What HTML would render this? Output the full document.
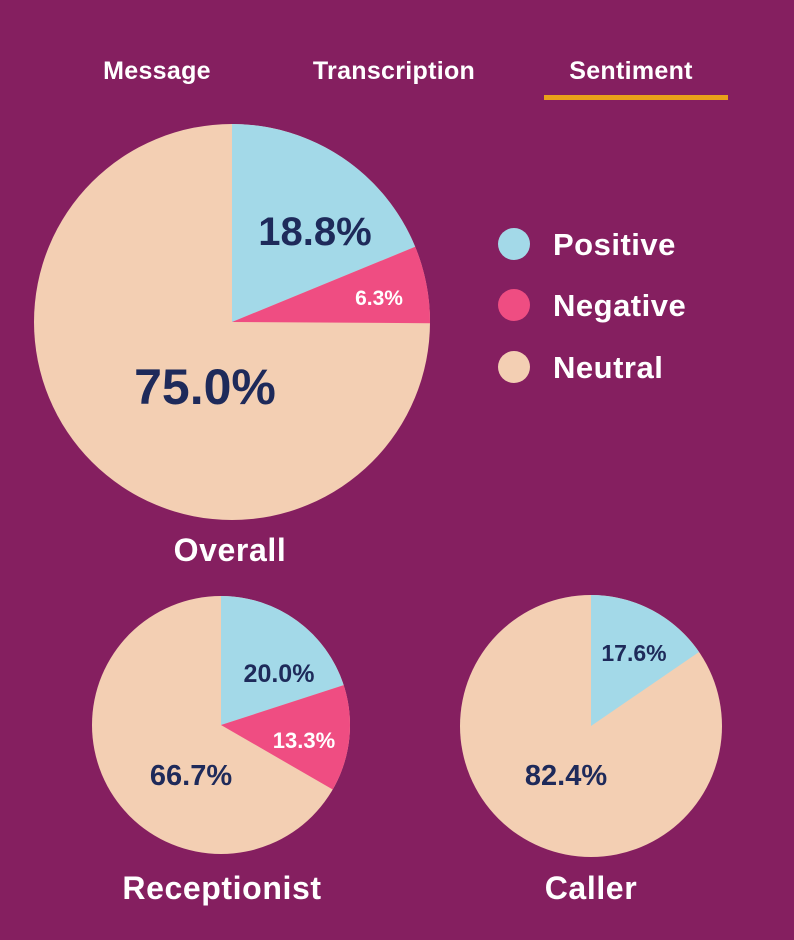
<!DOCTYPE html>
<html><head><meta charset="utf-8"><style>
html,body{margin:0;padding:0;background:#851f60;}
svg{display:block}
text{font-family:"Liberation Sans",sans-serif;}
</style></head><body>
<svg width="794" height="940" viewBox="0 0 794 940" xmlns="http://www.w3.org/2000/svg">
<rect width="794" height="940" fill="#851f60"/>
<g fill="#fff" font-size="25" font-weight="bold" text-anchor="middle" letter-spacing="0.3">
<text x="157" y="79">Message</text>
<text x="394" y="79">Transcription</text>
<text x="631" y="79">Sentiment</text>
</g>
<rect x="544" y="95" width="184" height="5" fill="#e9a11a"/>
<!-- Overall -->
<circle cx="232" cy="322" r="198" fill="#f3cfb3"/>
<path d="M232 322 L232 124 A198 198 0 0 1 415.2 246.8 Z" fill="#a3d9e8"/>
<path d="M232 322 L415.2 246.8 A198 198 0 0 1 430 323.2 Z" fill="#ef4d82"/>
<g font-weight="bold" fill="#1e2a5a" text-anchor="middle">
<text x="315" y="245" font-size="40">18.8%</text>
<text x="205" y="404" font-size="50">75.0%</text>
</g>
<text x="379" y="305" font-size="21" font-weight="bold" fill="#fff" text-anchor="middle">6.3%</text>
<!-- legend -->
<circle cx="514" cy="244" r="16" fill="#a3d9e8"/>
<circle cx="514" cy="305" r="16" fill="#ef4d82"/>
<circle cx="514" cy="367" r="16" fill="#f3cfb3"/>
<g fill="#fff" font-size="31" font-weight="bold" letter-spacing="0.5">
<text x="553" y="255">Positive</text>
<text x="553" y="316">Negative</text>
<text x="553" y="378">Neutral</text>
</g>
<text x="230" y="561" font-size="32" font-weight="bold" letter-spacing="0.6" fill="#fff" text-anchor="middle">Overall</text>
<!-- Receptionist -->
<circle cx="221" cy="725" r="129" fill="#f3cfb3"/>
<path d="M221 725 L221 596 A129 129 0 0 1 343.7 685.1 Z" fill="#a3d9e8"/>
<path d="M221 725 L343.7 685.1 A129 129 0 0 1 332.7 789.5 Z" fill="#ef4d82"/>
<!-- Caller -->
<circle cx="591" cy="726" r="131" fill="#f3cfb3"/>
<path d="M591 726 L591 595 A131 131 0 0 1 699 652 Z" fill="#a3d9e8"/>
<g font-weight="bold" fill="#1e2a5a" text-anchor="middle">
<text x="279" y="682" font-size="25">20.0%</text>
<text x="191" y="785" font-size="29">66.7%</text>
<text x="634" y="661" font-size="23">17.6%</text>
<text x="566" y="785" font-size="29">82.4%</text>
</g>
<text x="304" y="748" font-size="22" font-weight="bold" fill="#fff" text-anchor="middle">13.3%</text>
<g fill="#fff" font-size="32" font-weight="bold" letter-spacing="0.6" text-anchor="middle">
<text x="222" y="899">Receptionist</text>
<text x="591" y="899">Caller</text>
</g>
</svg>
</body></html>
